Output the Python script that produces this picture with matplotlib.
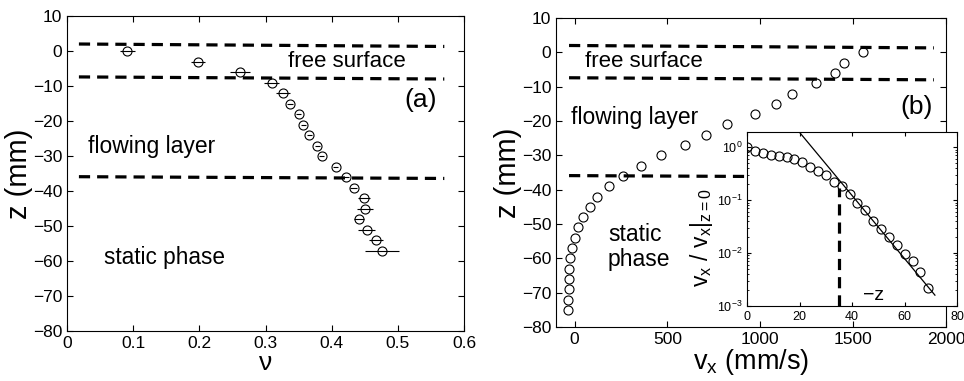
import numpy as np
import matplotlib
matplotlib.use("Agg")
import matplotlib.pyplot as plt

plt.rcParams["font.family"] = ["Liberation Sans", "DejaVu Sans"]
plt.rcParams["mathtext.fontset"] = "custom"
plt.rcParams["mathtext.rm"] = "Liberation Sans"
plt.rcParams["mathtext.it"] = "Liberation Sans"

# --- (a) volume fraction profile ---
z_a = [0, -3, -6, -9, -12, -15, -18, -21, -24, -27, -30, -33, -36, -39,
       -42, -45, -48, -51, -54, -57]
nu_a = [0.091, 0.198, 0.262, 0.309, 0.326, 0.337, 0.350, 0.357, 0.366, 0.378,
        0.385, 0.406, 0.421, 0.433, 0.448, 0.450, 0.441, 0.453, 0.467, 0.476]
nu_err = [0.011, 0.011, 0.015, 0.011, 0.011, 0.005, 0.004, 0.004, 0.004, 0.004,
          0.004, 0.004, 0.005, 0.005, 0.009, 0.012, 0.008, 0.013, 0.011, 0.026]

# --- (b) velocity profile ---
z_b = [0, -3, -6, -9, -12, -15, -18, -21, -24, -27, -30, -33, -36, -39,
       -42, -45, -48, -51, -54, -57, -60, -63, -66, -69, -72, -75]
vx_b = [1552, 1451, 1402, 1300, 1173, 1085, 969, 821, 706, 597, 466, 357, 260,
        186, 121, 85, 47, 18, 0, -14, -23, -31, -32, -32, -38, -38]

# --- inset: normalised velocity vs depth ---
depth_in = [0, 3, 6, 9, 12, 15, 18, 21, 24, 27, 30, 33, 36, 39, 42, 45, 48,
            51, 54, 57, 60, 63, 66, 69]
vnorm_in = [1.0, 0.86, 0.76, 0.71, 0.67, 0.64, 0.59, 0.53, 0.43, 0.35, 0.30,
            0.22, 0.183, 0.13, 0.089, 0.065, 0.041, 0.029, 0.0205, 0.0139,
            0.0097, 0.0070, 0.0043, 0.0022]
fit_depth = [19.8, 71.5]
fit_vnorm = [1.95, 0.0016]
layer_depth = 35

# dashed layer boundaries (slightly tilted in the original)
bound_a_x = [0.018, 0.57]
bound_b_x = [-30, 1935]
bound_top = [2.0, 1.3]
bound_mid = [-7.4, -8.0]
bound_low = [-35.9, -36.4]

fig = plt.figure(figsize=(9.64, 3.81), dpi=100)

tick_kw = dict(direction="in", top=True, right=True, labelsize=12.5, length=4)
dash_kw = dict(color="k", lw=2.3, dashes=(3.5, 2.2))
circ_kw = dict(marker="o", ms=6.5, mfc="none", mec="k", mew=0.8, ls="none")

# ---------------- panel (a) ----------------
ax1 = fig.add_axes([0.0695, 0.131, 0.412, 0.827])
for b in (bound_top, bound_mid, bound_low):
    ax1.plot(bound_a_x, b, **dash_kw)
ax1.errorbar(nu_a, z_a, xerr=nu_err, ecolor="k", elinewidth=0.8, capsize=0,
             **circ_kw)
ax1.set_xlim(0, 0.6)
ax1.set_ylim(-80, 10)
ax1.set_xticks(np.arange(0, 0.61, 0.1))
ax1.set_xticklabels(["0", "0.1", "0.2", "0.3", "0.4", "0.5", "0.6"])
ax1.set_yticks(np.arange(-80, 11, 10))
ax1.tick_params(**tick_kw)
ax1.set_xlabel("ν", fontsize=19, labelpad=0)
ax1.set_ylabel("z (mm)", fontsize=21, labelpad=0)
ax1.text(0.423, -3.1, "free surface", fontsize=16, ha="center", va="center")
ax1.text(0.128, -27.4, "flowing layer", fontsize=16.5, ha="center", va="center")
ax1.text(0.148, -59, "static phase", fontsize=16.3, ha="center", va="center")
ax1.text(0.559, -14, "(a)", fontsize=19, ha="right", va="center")

# ---------------- panel (b) ----------------
ax2 = fig.add_axes([0.5768, 0.1417, 0.4046, 0.811])
for b in (bound_top, bound_mid, bound_low):
    ax2.plot(bound_b_x, b, **dash_kw)
ax2.plot(vx_b, z_b, **circ_kw)
ax2.set_xlim(-100, 2000)
ax2.set_ylim(-80, 10)
ax2.set_xticks([0, 500, 1000, 1500, 2000])
ax2.set_yticks(np.arange(-80, 11, 10))
ax2.tick_params(**tick_kw)
ax2.set_xlabel(r"v$_\mathregular{x}$ (mm/s)", fontsize=19.5, labelpad=0)
ax2.set_ylabel("z (mm)", fontsize=21, labelpad=0)
ax2.text(373, -2.8, "free surface", fontsize=16, ha="center", va="center")
ax2.text(325, -18.9, "flowing layer", fontsize=16.5, ha="center", va="center")
ax2.text(180, -56.8, "static\nphase", fontsize=16.5, ha="left", va="center",
         linespacing=1.1)
ax2.text(1930, -16, "(b)", fontsize=19, ha="right", va="center")

# ---------------- inset ----------------
ax3 = fig.add_axes([0.775, 0.197, 0.218, 0.457])
ax3.semilogy(depth_in, vnorm_in, **circ_kw)
ax3.plot(fit_depth, fit_vnorm, color="k", lw=0.9)
ax3.plot([layer_depth, layer_depth], [1e-3, 0.17], **dash_kw)
ax3.set_xlim(0, 80)
ax3.set_ylim(1e-3, 1.95)
ax3.set_xticks([0, 20, 40, 60, 80])
ax3.tick_params(which="both", direction="in", top=True, right=True,
                labelsize=9, length=3)
ax3.tick_params(which="minor", length=1.5)
ax3.set_ylabel(r"v$_\mathregular{x}$ / v$_\mathregular{x}$|$_\mathregular{z=0}$",
               fontsize=16.5)
ax3.yaxis.set_label_coords(-0.155, 0.39)
ax3.text(48, 0.0016, "−z", fontsize=14, ha="center", va="center")

fig.savefig("out.png", dpi=100)
